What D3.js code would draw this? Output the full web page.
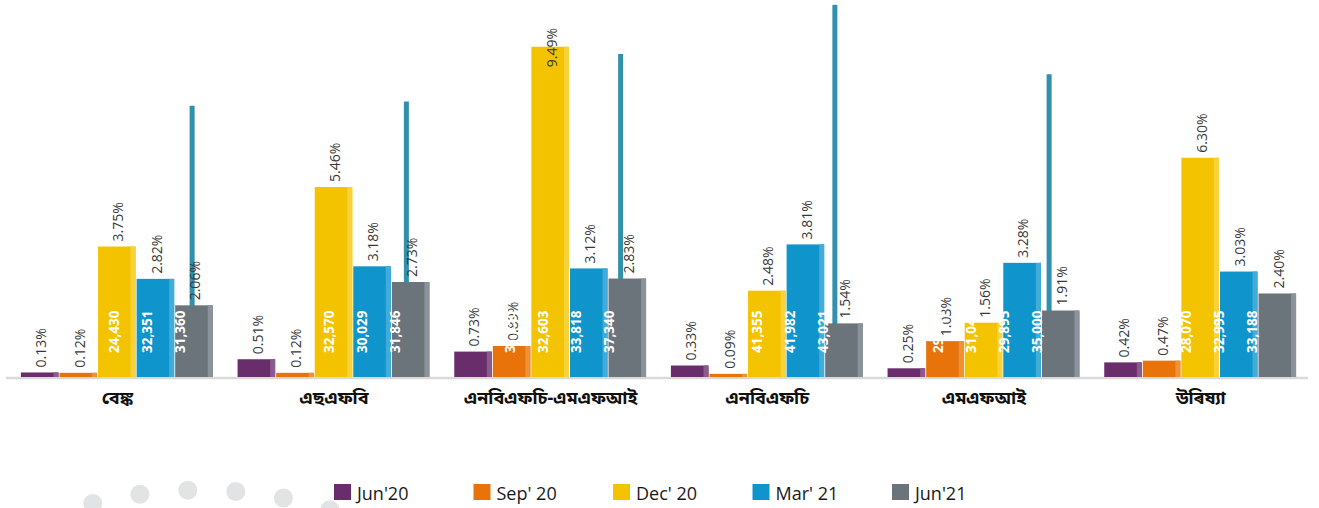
<!DOCTYPE html>
<html>
<head>
<meta charset="utf-8">
<script src="https://cdn.jsdelivr.net/npm/d3@7"></script>
<style>
  body { margin: 0; background: #fff; }
  svg { display: block; }
</style>
</head>
<body>
<div id="chart"></div>
<script>
// categories (Assamese labels)
const categories = ['বেঙ্ক', 'এছএফবি', 'এনবিএফচি-এমএফআই', 'এনবিএফচি', 'এমএফআই', 'উৰিষ্যা'];
const seriesNames = ["Jun'20", "Sep' 20", "Dec' 20", "Mar' 21", "Jun'21"];

// percentage values (bar heights)
const pctJun20 = [0.13, 0.51, 0.73, 0.33, 0.25, 0.42];
const pctSep20 = [0.12, 0.12, 0.89, 0.09, 1.03, 0.47];
const pctDec20 = [3.75, 5.46, 9.49, 2.48, 1.56, 6.30];
const pctMar21 = [2.82, 3.18, 3.12, 3.81, 3.28, 3.03];
const pctJun21 = [2.06, 2.73, 2.83, 1.54, 1.91, 2.40];

// amount labels (white, secondary series) - null where unreadable
const amtJun20 = [null, null, null, null, null, null];
const amtSep20 = [null, null, 31250, null, 29130, null];
const amtDec20 = [24430, 32570, 32603, 41355, 31044, 28070];
const amtMar21 = [32351, 30029, 33818, 41982, 29895, 32995];
const amtJun21 = [31360, 31846, 37340, 43021, 35000, 33188];

// thin secondary bar (only drawn for first five groups)
const thinJun21 = [31360, 31846, 37340, 43021, 35000, null];

const colors = ['#692d6b', '#e8730a', '#f4c300', '#0f95cb', '#6b737b'];
const lightColors = ['#8a5b8c', '#ef9135', '#f8d23a', '#42abd9', '#8b9299'];

const pctSeries = [pctJun20, pctSep20, pctDec20, pctMar21, pctJun21];
const amtSeries = [amtJun20, amtSep20, amtDec20, amtMar21, amtJun21];

const width = 1319, height = 508;
const baseY = 377, topY = 29;

const svg = d3.select('#chart').append('svg')
    .attr('width', width)
    .attr('height', height);

// decorative dots along an arc, bottom left
const arcCx = 200, arcCy = 925, arcR = 435;
const dotAngles = d3.range(7).map(k => (-20.6 + 6.33 * k) * Math.PI / 180);
svg.append('g').selectAll('circle')
    .data(dotAngles)
    .enter().append('circle')
    .attr('cx', a => arcCx + arcR * Math.sin(a))
    .attr('cy', a => arcCy - arcR * Math.cos(a))
    .attr('r', 9.5)
    .attr('fill', '#e2e3e4');

const x0 = d3.scaleBand().domain(categories).range([9, 1309])
    .paddingInner(0.11).paddingOuter(0.055);
const x1 = d3.scaleBand().domain(d3.range(5)).range([0, x0.bandwidth()]);

// secondary layout used by the amount series
const x0b = d3.scaleBand().domain(categories).range([7.5, 1293]).paddingInner(0.23).paddingOuter(0.115);
const x1b = d3.scaleBand().domain(d3.range(5)).range([0, x0b.bandwidth()]);

const y = d3.scaleLinear().domain([0, 10]).range([baseY, topY]);
const y2 = d3.scaleLinear().domain([0, 40000]).range([baseY, topY + 2]);

// axis line
svg.append('line')
    .attr('x1', 6).attr('x2', 1308)
    .attr('y1', baseY + 1).attr('y2', baseY + 1)
    .attr('stroke', '#d9d9d9').attr('stroke-width', 2.5);

// thin secondary bars
svg.append('g').selectAll('rect')
    .data(categories.map((c, i) => ({c, v: thinJun21[i]})).filter(d => d.v != null))
    .enter().append('rect')
    .attr('x', d => x0b(d.c) + x1b(4) + x1b.bandwidth() / 2 + 9)
    .attr('width', 5)
    .attr('y', d => y2(d.v))
    .attr('height', d => baseY - y2(d.v))
    .attr('fill', '#3190ad');

// bars
const groups = svg.append('g').selectAll('g')
    .data(categories)
    .enter().append('g')
    .attr('transform', c => `translate(${x0(c)},0)`);

const barData = (c, ci) => pctSeries.map((s, si) => ({si, v: s[ci]}));

groups.each(function(c, ci) {
    const g = d3.select(this);
    const bw = x1.bandwidth() - 1;
    const bars = g.selectAll('g.bar').data(barData(c, ci)).enter().append('g').attr('class', 'bar');
    bars.append('rect')
        .attr('x', d => x1(d.si))
        .attr('y', d => y(d.v))
        .attr('width', bw)
        .attr('height', d => baseY - y(d.v))
        .attr('fill', d => colors[d.si]);
    bars.append('rect')
        .attr('x', d => x1(d.si) + bw - 5)
        .attr('y', d => y(d.v))
        .attr('width', 5)
        .attr('height', d => baseY - y(d.v))
        .attr('fill', d => lightColors[d.si]);
});

// percentage labels
const fmt = d3.format('.2f');
groups.each(function(c, ci) {
    const g = d3.select(this);
    barData(c, ci).forEach(d => {
        const cx = x1(d.si) + x1.bandwidth() / 2 + 1;
        const t = g.append('text')
            .attr('font-family', '"Open Sans", sans-serif')
            .attr('font-size', 14)
            .attr('fill', '#383838')
            .attr('text-anchor', 'start')
            .attr('dy', '0.35em')
            .text(fmt(d.v) + '%');
        const len = t.node().getComputedTextLength();
        const start = Math.max(y(d.v) - 5, 28 + len);
        t.attr('transform', `translate(${cx},${start}) rotate(-90)`);
    });
});

// amount labels (white)
const fmtAmt = d3.format(',');
categories.forEach((c, ci) => {
    amtSeries.forEach((s, si) => {
        if (s[ci] == null) return;
        const cx = x0b(c) + x1b(si) + x1b.bandwidth() / 2;
        svg.append('text')
            .attr('transform', `translate(${cx},353) rotate(-90)`)
            .attr('font-family', '"Open Sans", sans-serif')
            .attr('font-size', 13.5)
            .attr('font-weight', 'bold')
            .attr('fill', '#ffffff')
            .attr('text-anchor', 'start')
            .attr('dy', '0.35em')
            .text(fmtAmt(s[ci]));
    });
});

// category labels
svg.append('g').selectAll('text')
    .data(categories)
    .enter().append('text')
    .attr('x', c => x0(c) + x0.bandwidth() / 2)
    .attr('y', 404)
    .attr('text-anchor', 'middle')
    .attr('font-family', '"Noto Sans Bengali", "Lohit Assamese", "Lohit Bengali", "Noto Sans", sans-serif')
    .attr('font-size', 18)
    .attr('font-weight', 'bold')
    .attr('fill', '#111')
    .text(c => c);

// legend
const legend = svg.append('g').selectAll('g')
    .data(seriesNames)
    .enter().append('g')
    .attr('transform', (d, i) => `translate(${334 + i * 139.5},484)`);
legend.append('rect')
    .attr('width', 17).attr('height', 16)
    .attr('fill', (d, i) => colors[i]);
legend.append('text')
    .attr('x', 23).attr('y', 15.5)
    .attr('font-family', '"Open Sans", sans-serif')
    .attr('font-size', 18)
    .attr('fill', '#1a1a1a')
    .text(d => d);
</script>
</body>
</html>
